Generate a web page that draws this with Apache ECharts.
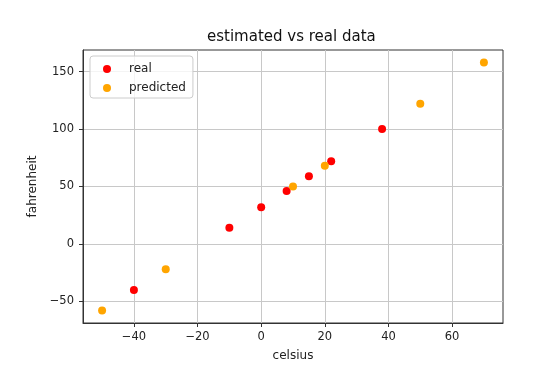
<!DOCTYPE html>
<html>
<head>
<meta charset="utf-8">
<script src="https://cdn.jsdelivr.net/npm/echarts@6/dist/echarts.min.js"></script>
<style>
html,body{margin:0;padding:0;background:#fff;}
#chart{width:553px;height:380px;}
</style>
</head>
<body>
<div id="chart"></div>
<script>
const realCelsius = [-40, -10, 0, 8, 15, 22, 38];
const realFahrenheit = [-40, 14, 32, 46, 59, 72, 100];
const predCelsius = [-50, -30, 10, 20, 50, 70];
const predFahrenheit = [-58, -22, 50, 68, 122, 158];
const xTicks = [-40, -20, 0, 20, 40, 60];
const yTicks = [-50, 0, 50, 100, 150];

const realData = realCelsius.map((c, i) => [c, realFahrenheit[i]]);
const predData = predCelsius.map((c, i) => [c, predFahrenheit[i]]);

const font = 'DejaVu Sans';
const chart = echarts.init(document.getElementById('chart'), null, {renderer: 'canvas'});
const fmt = v => (v < 0 ? '\u2212' + Math.abs(v) : String(v));

chart.setOption({
  animation: false,
  backgroundColor: '#fff',
  grid: {left: 83, right: 50, top: 50, bottom: 57, show: true, borderColor: '#333', borderWidth: 1, backgroundColor: 'transparent'},
  graphic: [{
    type: 'text', left: 207, top: 30,
    style: {text: 'estimated vs real data', font: '15px "DejaVu Sans"', fill: '#111'}
  }],
  legend: {
    orient: 'vertical', left: 90, top: 56,
    padding: [7, 7, 4, 13], itemGap: 7,
    itemWidth: 34, itemHeight: 8,
    backgroundColor: 'rgba(255,255,255,0.8)', borderColor: '#ccc', borderWidth: 1, borderRadius: 3,
    textStyle: {fontFamily: font, fontSize: 12, lineHeight: 12, color: '#222'},
    data: [{name: 'real', icon: 'circle'}, {name: 'predicted', icon: 'circle'}]
  },
  xAxis: {
    type: 'value', min: -56, max: 76,
    name: 'celsius', nameLocation: 'middle', nameGap: 27,
    nameTextStyle: {fontFamily: font, fontSize: 12, color: '#222'},
    axisLine: {show: true, onZero: false, lineStyle: {color: '#333', width: 1}},
    axisTick: {show: true, inside: false, length: 4, customValues: xTicks, lineStyle: {color: '#333'}},
    axisLabel: {customValues: xTicks, formatter: fmt, fontFamily: font, fontSize: 11.5, color: '#222', margin: 8},
    splitLine: {show: true, lineStyle: {color: '#c8c8c8', width: 1}}
  },
  yAxis: {
    type: 'value', min: -68.8, max: 168.8,
    name: 'fahrenheit', nameLocation: 'middle', nameGap: 42,
    nameTextStyle: {fontFamily: font, fontSize: 12, color: '#222'},
    axisLine: {show: true, onZero: false, lineStyle: {color: '#333', width: 1}},
    axisTick: {show: true, inside: false, length: 4, customValues: yTicks, lineStyle: {color: '#333'}},
    axisLabel: {customValues: yTicks, formatter: fmt, fontFamily: font, fontSize: 11.5, color: '#222', margin: 9},
    splitLine: {show: true, lineStyle: {color: '#c8c8c8', width: 1}}
  },
  series: [
    {name: 'real', type: 'scatter', data: realData, symbol: 'circle', symbolSize: 8, itemStyle: {color: '#ff0000', opacity: 1}},
    {name: 'predicted', type: 'scatter', data: predData, symbol: 'circle', symbolSize: 8, itemStyle: {color: '#ffa500', opacity: 1}}
  ]
});
</script>
</body>
</html>
